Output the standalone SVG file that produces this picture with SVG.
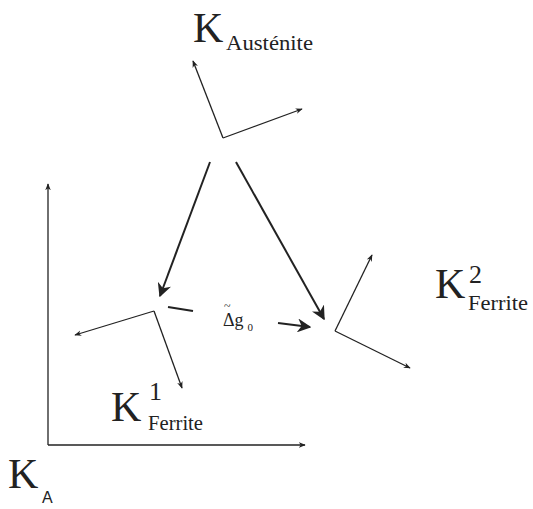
<svg xmlns="http://www.w3.org/2000/svg" width="533" height="509" viewBox="0 0 533 509">
<defs>
<marker id="ah" viewBox="0 0 10 10" refX="9" refY="5" markerWidth="7" markerHeight="7" markerUnits="userSpaceOnUse" orient="auto"><path d="M0,1 L10,5 L0,9 L3,5 z" fill="#222"/></marker>
<marker id="ahb" viewBox="0 0 10 10" refX="9" refY="5" markerWidth="14" markerHeight="14" markerUnits="userSpaceOnUse" orient="auto"><path d="M0,0 L10,5 L0,10 L3,5 z" fill="#222"/></marker>
</defs>
<style>
.thin{stroke:#222;stroke-width:1.3;fill:none}
.thick{stroke:#222;stroke-width:2;fill:none}
text{font-family:'Liberation Serif','Times New Roman',serif;fill:#222}
.big{font-size:42px}
.sub{font-size:20px}
.sup{font-size:26px}
</style>
<rect width="533" height="509" fill="#fff"/>
<g id="axes">
<line class="thin" x1="48" y1="445" x2="305" y2="445" marker-end="url(#ah)"/>
<line class="thin" x1="48" y1="445" x2="48" y2="184" marker-end="url(#ah)"/>
</g>
<g id="austenite">
<line class="thin" x1="223" y1="138" x2="193" y2="61" marker-end="url(#ah)"/>
<line class="thin" x1="223" y1="138" x2="302" y2="109" marker-end="url(#ah)"/>
<text class="big" x="193" y="42">K</text>
<text class="sub" x="226" y="50" textLength="87" lengthAdjust="spacingAndGlyphs">Austénite</text>
</g>
<g id="ferrite1">
<line class="thin" x1="154" y1="311" x2="75" y2="335" marker-end="url(#ah)"/>
<line class="thin" x1="154" y1="311" x2="182" y2="388" marker-end="url(#ah)"/>
<text class="big" x="111" y="421">K</text>
<text class="sup" x="149" y="400">1</text>
<text class="sub" x="148" y="430" textLength="55" lengthAdjust="spacingAndGlyphs">Ferrite</text>
</g>
<g id="ferrite2">
<line class="thin" x1="335" y1="331" x2="372" y2="255" marker-end="url(#ah)"/>
<line class="thin" x1="335" y1="331" x2="410" y2="368" marker-end="url(#ah)"/>
<text class="big" x="435" y="298">K</text>
<text class="sup" x="469" y="283">2</text>
<text class="sub" x="468" y="310" textLength="60" lengthAdjust="spacingAndGlyphs">Ferrite</text>
</g>
<g id="ka">
<text class="big" x="8" y="488">K</text>
<text style="font-family:'Liberation Sans',Arial,sans-serif" font-size="16" x="42" y="503">A</text>
</g>
<g id="connectors">
<line class="thick" x1="210" y1="162" x2="160" y2="296" marker-end="url(#ahb)"/>
<line class="thick" x1="236" y1="162" x2="324" y2="319" marker-end="url(#ahb)"/>
<line class="thick" x1="168" y1="307" x2="193" y2="311"/>
<line class="thick" x1="278" y1="323" x2="310" y2="327" marker-end="url(#ahb)"/>
</g>
<g id="label">
<text font-size="18"><tspan x="224" y="310" font-size="12">~</tspan><tspan x="223" y="326">Δg</tspan><tspan font-size="11" dx="4" dy="5">0</tspan></text>
</g>
</svg>
